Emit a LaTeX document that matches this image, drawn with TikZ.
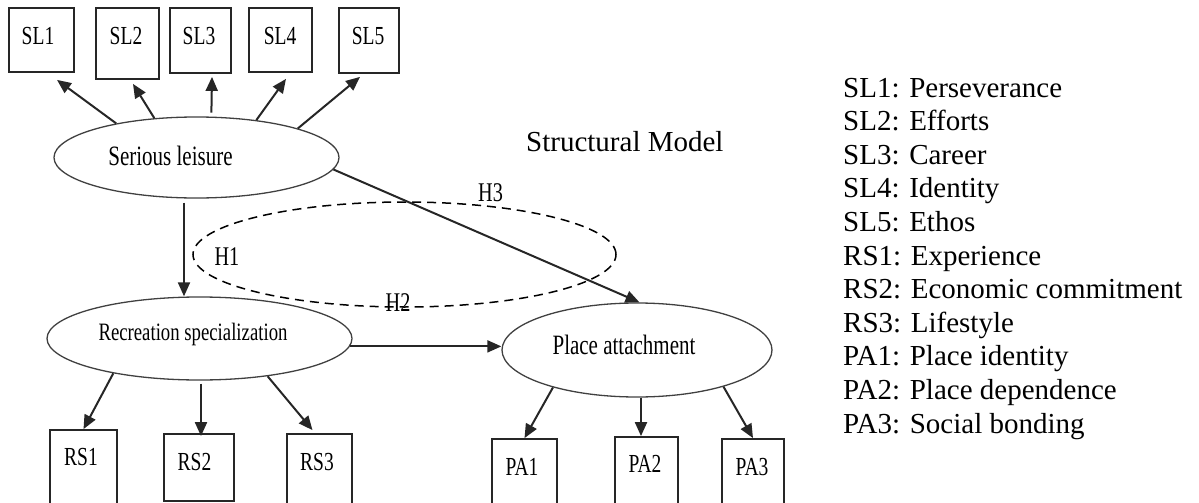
\documentclass[tikz,border=0pt]{standalone}
\usepackage{fontspec}
\setmainfont{Liberation Serif}
\newfontfamily\condfont[FakeStretch=0.75]{Liberation Serif}
\usetikzlibrary{shapes.geometric,arrows.meta,calc}

\tikzset{
  indicator/.style={draw=black!85, line width=1.8pt, inner sep=0pt},
  boxtext/.style={font=\condfont\fontsize{26}{26}\selectfont, inner sep=0pt},
  latent/.style={ellipse, draw=black!75, line width=1.3pt, inner sep=0pt},
  latenttext/.style={font=\condfont\fontsize{#1}{#1}\selectfont, inner sep=0pt},
  hyp/.style={font=\condfont\fontsize{27}{27}\selectfont, inner sep=0pt},
  path arrow/.style={draw=black!85, line width=2pt, -{Triangle[length=14pt,width=12pt]}},
  legend/.style={font=\fontsize{29}{30}\selectfont, anchor=base west, inner sep=0pt},
}

\begin{document}
\begin{tikzpicture}[x=1pt,y=-1pt]
\useasboundingbox (0,0) rectangle (1199,503);
\clip (0,0) rectangle (1199,503);

% Serious leisure indicators
\node (sl1) [indicator, minimum width=65pt, minimum height=64pt,
  label={[boxtext, xshift=-3.5pt, yshift=4pt]center:SL1}] at (41.5,40) {};
\node (sl2) [indicator, minimum width=63pt, minimum height=71pt,
  label={[boxtext, xshift=-1.5pt, yshift=7.5pt]center:SL2}] at (127.5,43.5) {};
\node (sl3) [indicator, minimum width=61pt, minimum height=65pt,
  label={[boxtext, xshift=-1.5pt, yshift=4.5pt]center:SL3}] at (200.5,40.5) {};
\node (sl4) [indicator, minimum width=63pt, minimum height=64pt,
  label={[boxtext, xshift=-0.5pt, yshift=4pt]center:SL4}] at (280.5,40) {};
\node (sl5) [indicator, minimum width=60pt, minimum height=65pt,
  label={[boxtext, xshift=-1pt, yshift=4.5pt]center:SL5}] at (369,40.5) {};

% Recreation specialization indicators
\node (rs1) [indicator, minimum width=67pt, minimum height=85pt,
  label={[boxtext, xshift=-2.5pt, yshift=15.5pt]center:RS1}] at (83.5,472.5) {};
\node (rs2) [indicator, minimum width=70pt, minimum height=67pt,
  label={[boxtext, xshift=-4.5pt, yshift=5.5pt]center:RS2}] at (199,467.5) {};
\node (rs3) [indicator, minimum width=65pt, minimum height=81pt,
  label={[boxtext, xshift=-2.5pt, yshift=12.5pt]center:RS3}] at (319.5,474.5) {};

% Place attachment indicators
\node (pa1) [indicator, minimum width=65pt, minimum height=76pt,
  label={[boxtext, xshift=-2.5pt, yshift=10pt]center:PA1}] at (524.5,477) {};
\node (pa2) [indicator, minimum width=63pt, minimum height=78pt,
  label={[boxtext, xshift=-1.5pt, yshift=12pt]center:PA2}] at (646.5,476) {};
\node (pa3) [indicator, minimum width=62pt, minimum height=76pt,
  label={[boxtext, xshift=-1pt, yshift=10pt]center:PA3}] at (753,477) {};

% Latent constructs
\node (sl) [latent, minimum width=285pt, minimum height=81pt,
  label={[latenttext=28, xshift=-26pt, yshift=1.5pt]center:Serious leisure}] at (196.5,157.5) {};
\node (rs) [latent, minimum width=305pt, minimum height=83pt,
  label={[latenttext=25, xshift=-6.5pt, yshift=4pt]center:Recreation specialization}] at (199.5,338.5) {};
\node (pa) [latent, minimum width=270pt, minimum height=94pt,
  label={[latenttext=28, xshift=-13pt, yshift=5pt]center:Place attachment}] at (637,350) {};

% Dashed outline around the structural paths
\node (structural) [ellipse, draw=black, line width=1.5pt, dash pattern=on 9pt off 6pt,
  minimum width=423pt, minimum height=105pt, inner sep=0pt] at (404.5,254.5) {};

% Measurement paths
\draw[path arrow] (sl.157.8) -- ([xshift=15.5pt,yshift=-7pt]sl1.south);
\draw[path arrow] (sl.137.7) -- ([xshift=5.5pt,yshift=-4pt]sl2.south);
\draw[path arrow] ([yshift=4pt]sl.70.8) -- ([xshift=11.5pt,yshift=-3pt]sl3.south);
\draw[path arrow] (sl.32.5) -- ([xshift=5.5pt,yshift=-6pt]sl4.south);
\draw[path arrow] (sl.16.1) -- ([xshift=-9pt,yshift=-3pt]sl5.south);

\draw[path arrow] (rs.202.5) -- (rs1.north);
\draw[path arrow] ([xshift=1.5pt,yshift=-3pt]rs.south) -- ([xshift=1.5pt,yshift=-3pt]rs.south |- rs2.north);
\draw[path arrow] (rs.-29.3) -- ([xshift=-7pt,yshift=3pt]rs3.north);

\draw[path arrow] (pa.204.8) -- (pa1.north);
\draw[path arrow] ([xshift=4pt]pa.south) -- ([xshift=4pt]pa.south |- pa2.north);
\draw[path arrow] (pa.-23.5) -- (pa3.north);

% Structural paths
\draw[path arrow] ([xshift=-12.5pt,yshift=-4pt]sl.south) -- ([xshift=-12.5pt]sl.south |- rs.north);
\draw[path arrow] (sl.-5.6) -- (pa.87);
\draw[path arrow] (rs.-3.7) -- (rs.-3.7 -| pa.west);

% Hypothesis labels
\node (h1) [hyp] at (227,257) {H1};
\node (h2) [hyp] at (398,303) {H2};
\node (h3) [hyp] at (490.5,193) {H3};

\node (title) [legend] at (526,151) {Structural Model};

% Legend of indicator codes
\foreach \entry [count=\i from 0] in {SL1: Perseverance, SL2: Efforts, SL3: Career,
    SL4: Identity, SL5: Ethos, RS1: Experience, RS2: Economic commitment,
    RS3: Lifestyle, PA1: Place identity, PA2: Place dependence, PA3: Social bonding}
  \node (key\i) [legend] at (843, 97+33.6*\i) {\entry};
\end{tikzpicture}
\end{document}
